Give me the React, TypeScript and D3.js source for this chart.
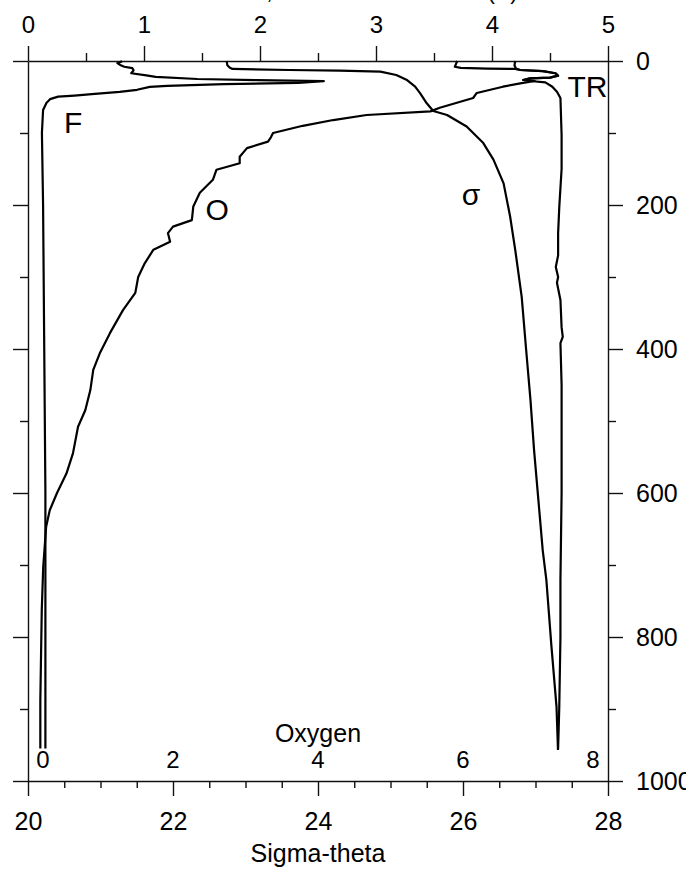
import { useRef, useEffect } from 'react';
import * as d3 from 'd3';

// [depth (m), value] pairs
const fluorescence: [number, number][] = [
  [0.5, 0.81], [3, 0.77], [6, 0.8], [8, 0.83], [10, 0.9], [13, 0.91], [17, 0.89],
  [20, 1.02], [22, 1.1], [25, 1.46], [26.5, 1.98], [28, 2.55], [30.5, 2.33], [32, 1.69],
  [34.5, 1.2], [36, 1.05], [40, 0.94], [43, 0.79], [46, 0.55], [48, 0.4], [49.5, 0.26],
  [53, 0.19], [58, 0.16], [68, 0.13], [100, 0.12], [200, 0.13], [400, 0.14],
  [600, 0.15], [800, 0.15], [955, 0.15],
];

const transmission: [number, number][] = [
  [0, 3.7], [4, 3.69], [8, 3.68], [9.5, 3.73], [10.5, 3.96], [11, 4.2], [12.5, 4.24],
  [14, 4.44], [17, 4.55], [20.4, 4.57], [23, 4.5], [24, 4.33], [26.4, 4.27], [27.8, 4.33],
  [29.6, 4.46], [35.7, 4.52], [42.6, 4.56], [51.4, 4.59], [103, 4.6], [150, 4.6],
  [203, 4.58], [239, 4.57], [270, 4.57], [286, 4.55], [300, 4.57], [308, 4.56],
  [332, 4.59], [370, 4.6], [383, 4.61], [392, 4.59], [450, 4.6], [520, 4.6], [600, 4.6],
  [721, 4.59], [800, 4.59], [897, 4.58], [955, 4.57],
];

const oxygen: [number, number][] = [
  [0, 6.72], [6, 6.71], [10.5, 6.73], [12.5, 6.79], [14, 7.1], [17, 7.27], [20.4, 7.31],
  [23, 7.2], [24, 6.92], [26.4, 6.83], [27.8, 6.99], [31, 6.79], [35.7, 6.55], [44.4, 6.19],
  [51.4, 6.14], [65, 5.68], [70, 5.55], [75, 4.67], [82, 4.21], [90, 3.79], [100, 3.38],
  [106, 3.35], [112, 3.31], [121, 3.02], [133, 2.92], [142, 2.92], [151, 2.6], [165, 2.55],
  [183, 2.37], [202, 2.28], [221, 2.26], [230, 2.0], [239, 1.93], [251, 1.96], [262, 1.73],
  [281, 1.61], [300, 1.52], [322, 1.48], [346, 1.31], [378, 1.13], [406, 0.99], [429, 0.9],
  [457, 0.86], [485, 0.79], [508, 0.69], [545, 0.62], [573, 0.53], [600, 0.4], [624, 0.3],
  [647, 0.25], [703, 0.21], [762, 0.19], [888, 0.17], [955, 0.17],
];

const sigmaTheta: [number, number][] = [
  [0, 22.74], [6, 22.75], [9, 22.78], [11, 22.82], [12.5, 23.6], [13.4, 24.3], [14.8, 24.86],
  [19.4, 25.08], [26, 25.22], [35.7, 25.34], [44.9, 25.41], [58.8, 25.5], [69.4, 25.59],
  [75, 25.78], [91, 26.05], [114, 26.28], [137, 26.42], [170, 26.56], [216, 26.65],
  [262, 26.72], [328, 26.81], [400, 26.87], [470, 26.93], [540, 26.98], [610, 27.04],
  [680, 27.1], [721, 27.15], [813, 27.22], [897, 27.29], [957, 27.31],
];

const topMajor = [0, 1, 2, 3, 4, 5];
const topMinor = [0.5, 1.5, 2.5, 3.5, 4.5];
const depthMajor = [0, 200, 400, 600, 800, 1000];
const depthMinor = [100, 300, 500, 700, 900];
const sigmaMajor = [20, 22, 24, 26, 28];
const sigmaMinor = [20.5, 21, 21.5, 22.5, 23, 23.5, 24.5, 25, 25.5, 26.5, 27, 27.5];
const oxygenTicks = [0, 2, 4, 6, 8];

const FONT = '"Liberation Sans", Arial, Helvetica, sans-serif';

function App() {
  const svgRef = useRef<SVGSVGElement>(null);
  const width = 686;
  const height = 871;

  useEffect(() => {
    const svg = d3.select(svgRef.current);
    svg.selectAll('*').remove();

    const x0 = 28;
    const x1 = 608;
    const y0 = 61;
    const y1 = 781;

    const xTop = d3.scaleLinear().domain([0, 5]).range([x0, x1]);
    const xSig = d3.scaleLinear().domain([20, 28]).range([x0, x1]);
    const xOx = d3.scaleLinear().domain([0, 8]).range([x0, x1]);
    const yDepth = d3.scaleLinear().domain([0, 1000]).range([y0, y1]);

    const style = (g: any, size = 24) => {
      g.attr('font-family', FONT).attr('font-size', size);
      g.selectAll('line, path').attr('stroke', '#111').attr('stroke-width', 1.4);
      g.selectAll('text').attr('fill', '#000');
    };

    // top axis (fluorescence / transmission)
    svg.append('g')
      .attr('transform', `translate(0,${y0})`)
      .call(d3.axisTop(xTop).tickValues(topMajor).tickSize(15).tickSizeOuter(0).tickPadding(13).tickFormat(d3.format('d')))
      .call((g) => style(g, 24));
    svg.append('g')
      .attr('transform', `translate(0,${y0})`)
      .call(d3.axisTop(xTop).tickValues(topMinor).tickSize(8).tickFormat(() => ''))
      .call((g) => g.select('.domain').remove())
      .call((g) => style(g));

    // right axis (depth)
    svg.append('g')
      .attr('transform', `translate(${x1},0)`)
      .call(d3.axisRight(yDepth).tickValues(depthMajor).tickSize(15).tickSizeOuter(0).tickPadding(13).tickFormat(d3.format('d')))
      .call((g) => style(g, 25));
    svg.append('g')
      .attr('transform', `translate(${x1},0)`)
      .call(d3.axisRight(yDepth).tickValues(depthMinor).tickSize(8).tickFormat(() => ''))
      .call((g) => g.select('.domain').remove())
      .call((g) => style(g));

    // left axis (depth, no labels)
    svg.append('g')
      .attr('transform', `translate(${x0},0)`)
      .call(d3.axisLeft(yDepth).tickValues(depthMajor).tickSize(15).tickSizeOuter(0).tickFormat(() => ''))
      .call((g) => style(g));
    svg.append('g')
      .attr('transform', `translate(${x0},0)`)
      .call(d3.axisLeft(yDepth).tickValues(depthMinor).tickSize(8).tickFormat(() => ''))
      .call((g) => g.select('.domain').remove())
      .call((g) => style(g));

    // bottom axis (sigma-theta)
    svg.append('g')
      .attr('transform', `translate(0,${y1})`)
      .call(d3.axisBottom(xSig).tickValues(sigmaMajor).tickSize(15).tickSizeOuter(0).tickPadding(16).tickFormat(d3.format('d')))
      .call((g) => style(g, 25));
    svg.append('g')
      .attr('transform', `translate(0,${y1})`)
      .call(d3.axisBottom(xSig).tickValues(sigmaMinor).tickSize(7).tickFormat(() => ''))
      .call((g) => g.select('.domain').remove())
      .call((g) => style(g));

    // oxygen labels sit inside the frame, ends pulled inward
    svg.append('g')
      .attr('font-family', FONT)
      .attr('font-size', 24)
      .selectAll('text')
      .data(oxygenTicks)
      .join('text')
      .attr('x', (d, i) => xOx(d) + (i === 0 ? 15 : i === oxygenTicks.length - 1 ? -15 : 0))
      .attr('y', 768)
      .attr('text-anchor', 'middle')
      .text((d) => d);

    svg.append('text')
      .attr('x', xOx(4))
      .attr('y', 742)
      .attr('text-anchor', 'middle')
      .attr('font-family', FONT)
      .attr('font-size', 25)
      .text('Oxygen');

    svg.append('text')
      .attr('x', xSig(24))
      .attr('y', 862)
      .attr('text-anchor', 'middle')
      .attr('font-family', FONT)
      .attr('font-size', 25)
      .text('Sigma-theta');

    // title, mostly cut off above the frame
    svg.append('text')
      .attr('x', 518)
      .attr('y', -1.5)
      .attr('text-anchor', 'end')
      .attr('font-family', FONT)
      .attr('font-size', 23)
      .text('Fluorescence, Beam Transmission (V)');

    const profile = (xs: d3.ScaleLinear<number, number>) =>
      d3.line<[number, number]>()
        .x((d) => xs(d[1]))
        .y((d) => yDepth(d[0]));

    const series: [[number, number][], d3.ScaleLinear<number, number>][] = [
      [fluorescence, xTop],
      [transmission, xTop],
      [oxygen, xOx],
      [sigmaTheta, xSig],
    ];

    series.forEach(([data, xs]) => {
      svg.append('path')
        .datum(data)
        .attr('fill', 'none')
        .attr('stroke', '#000')
        .attr('stroke-width', 2.2)
        .attr('stroke-linejoin', 'round')
        .attr('d', profile(xs));
    });

    // curve labels
    const labels: [string, number, number][] = [
      ['F', xTop(0.39), yDepth(100)],
      ['O', xOx(2.61), yDepth(221)],
      ['σ', xSig(26.11), yDepth(200)],
      ['TR', xTop(4.65), yDepth(50)],
    ];
    svg.append('g')
      .attr('font-family', FONT)
      .attr('font-size', 30)
      .selectAll('text')
      .data(labels)
      .join('text')
      .attr('x', (d) => d[1])
      .attr('y', (d) => d[2])
      .attr('text-anchor', (d) => (d[0] === 'TR' ? 'start' : 'middle'))
      .text((d) => d[0]);
  }, []);

  return (
    <svg
      ref={svgRef}
      width={width}
      height={height}
      style={{ position: 'absolute', left: 0, top: 0, background: '#fff' }}
    ></svg>
  );
}

export default App;
